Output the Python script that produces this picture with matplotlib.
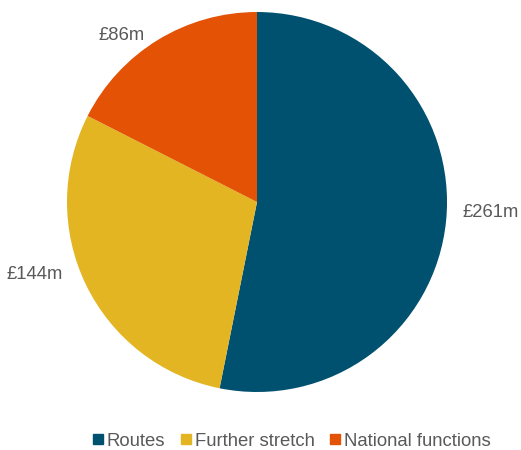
import matplotlib
matplotlib.use("Agg")
import matplotlib.pyplot as plt
from matplotlib.lines import Line2D

categories = ["Routes", "Further stretch", "National functions"]
values = [261, 144, 86]
labels = ["£261m", "£144m", "£86m"]
colors = ["#00506F", "#E3B523", "#E35205"]

# where the value labels sit, in pie radius units
label_pos = [(1.08, -0.053), (-1.02, -0.384), (-0.59, 0.879)]

plt.rcParams["font.family"] = ["Liberation Sans", "DejaVu Sans"]

fig = plt.figure(figsize=(5.21, 4.5), dpi=100)
ax = fig.add_axes([0.1286, 0.1289, 0.7294, 0.8444])

wedges, texts = ax.pie(
    values,
    labels=labels,
    colors=colors,
    startangle=90,
    counterclock=False,
    textprops=dict(color="#595959", fontsize=13.3),
    wedgeprops=dict(linewidth=0),
)
for t, pos in zip(texts, label_pos):
    t.set_position(pos)
    t.set_va("center")
ax.set_xlim(-1, 1)
ax.set_ylim(-1, 1)
ax.set_aspect("auto")

handles = [Line2D([], [], marker="s", linestyle="", markersize=6.5,
                  markerfacecolor=c, markeredgecolor=c) for c in colors]
fig.legend(handles, categories, loc="center", bbox_to_anchor=(0.556, 0.02),
           ncol=3, frameon=False, fontsize=13.3, handletextpad=0.0,
           columnspacing=0.6, handlelength=1.0, labelcolor="#595959")

fig.savefig("out.png", dpi=100)
